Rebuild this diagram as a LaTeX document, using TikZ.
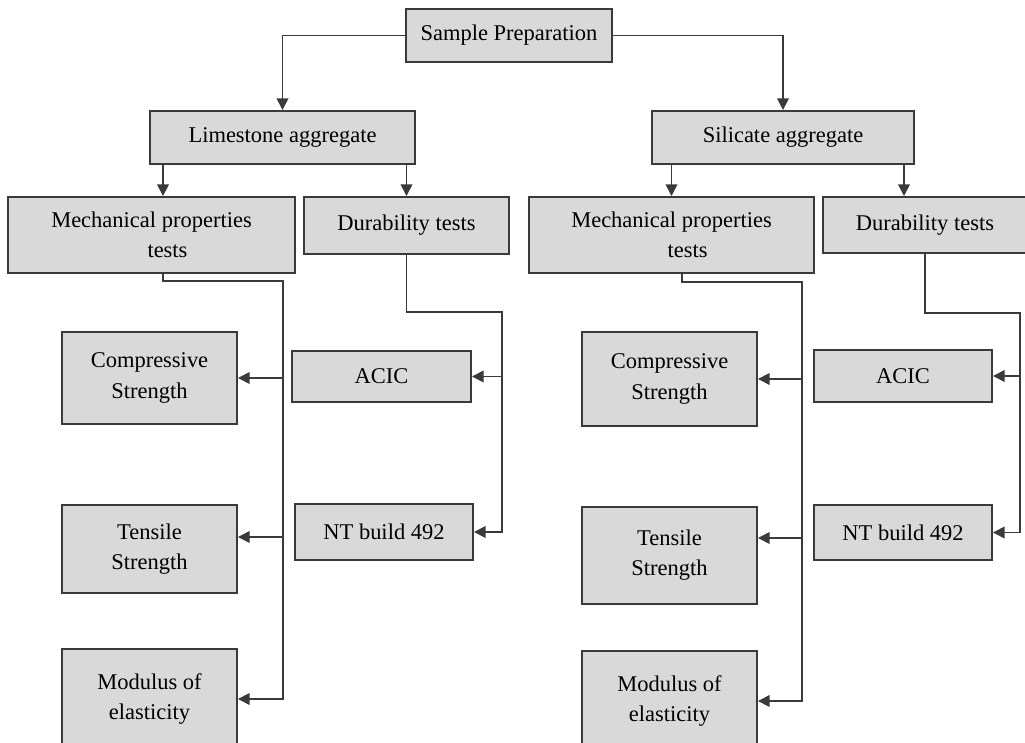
\documentclass[tikz,border=0pt]{standalone}
\usepackage{fontspec}
\setmainfont{Liberation Serif}
\usetikzlibrary{arrows.meta}
\definecolor{boxfill}{HTML}{D9D9D9}
\definecolor{boxline}{HTML}{3A3A3A}

\begin{document}
\begin{tikzpicture}
  \tikzset{box/.style = {shape=rectangle,draw=boxline,fill=boxfill,line width=1.4pt,inner sep=2pt,align=center,text=black,font=\fontsize{16}{21.5}\selectfont}}
  \tikzset{arr/.style = {draw=boxline,line width=1.2pt,-{Triangle[length=2.9mm,width=2.9mm]}}}

  \useasboundingbox (0,0) rectangle (25.625,18.55);
  \clip (0,0) rectangle (25.625,18.55);

	\node[box,minimum width=5.15cm,minimum height=1.325cm] (sample) at (12.725,17.6625) {Sample Preparation};
	\node[box,minimum width=6.625cm,minimum height=1.325cm] (lime) at (7.0625,15.1125) {Limestone aggregate};
	\node[box,minimum width=6.55cm,minimum height=1.325cm] (sili) at (19.575,15.1125) {Silicate aggregate};

	\node[box,minimum width=7.175cm,minimum height=1.9cm] (mechL) at (3.7875,12.675) {Mechanical properties\\\hspace*{0.8cm}tests};
	\node[box,minimum width=5.125cm,minimum height=1.425cm] (durL) at (10.1625,12.9125) {Durability tests};
	\node[box,minimum width=7.125cm,minimum height=1.9cm] (mechR) at (16.7875,12.675) {Mechanical properties\\\hspace*{0.8cm}tests};
	\node[box,minimum width=5.1cm,minimum height=1.4cm] (durR) at (23.125,12.925) {Durability tests};

	\node[box,minimum width=4.375cm,minimum height=2.3cm] (compL) at (3.7375,9.1) {Compressive\\Strength};
	\node[box,minimum width=4.375cm,minimum height=2.2cm] (tensL) at (3.7375,4.825) {Tensile\\Strength};
	\node[box,minimum width=4.375cm,minimum height=2.5cm] (modL) at (3.7375,1.075) {Modulus of\\elasticity};
	\node[box,minimum width=4.475cm,minimum height=1.275cm] (acicL) at (9.5375,9.1375) {ACIC};
	\node[box,minimum width=4.45cm,minimum height=1.4cm] (ntL) at (9.6,5.25) {NT build 492};

	\node[box,minimum width=4.375cm,minimum height=2.35cm] (compR) at (16.7375,9.075) {Compressive\\Strength};
	\node[box,minimum width=4.375cm,minimum height=2.425cm] (tensR) at (16.7375,4.6625) {Tensile\\Strength};
	\node[box,minimum width=4.375cm,minimum height=2.5cm] (modR) at (16.7375,1.025) {Modulus of\\elasticity};
	\node[box,minimum width=4.45cm,minimum height=1.3cm] (acicR) at (22.575,9.15) {ACIC};
	\node[box,minimum width=4.45cm,minimum height=1.375cm] (ntR) at (22.575,5.2375) {NT build 492};

	\coordinate (bML) at (4.075,11.525);
	\coordinate (tML) at (7.075,11.525);
	\coordinate (bMR) at (17.05,11.5);
	\coordinate (tMR) at (20.05,11.5);
	\coordinate (tDL) at (12.55,10.75);
	\coordinate (tDR) at (25.5,10.725);
	\coordinate (sDR) at (22.6,14);
	\coordinate (aTL) at (7.075,5.125);
	\coordinate (aTR) at (20.05,5.1);

	\draw[arr] (sample.west) -| (lime.north);
	\draw[arr] (sample.east) -| (sili.north);
	\draw[arr] (bML |- lime.south) -- (bML |- mechL.north);
	\draw[arr] (lime.south -| durL.north) -- (durL.north);
	\draw[arr] (sili.south -| mechR.north) -- (mechR.north);
	\draw[arr] (sDR |- sili.south) -- (sDR |- durR.north);

	\draw[arr] (bML |- mechL.south) -- (bML) -- (tML) |- (modL.east);
	\draw[arr] (bMR |- mechR.south) -- (bMR) -- (tMR) |- (modR.east);
	\draw[arr] (durL.south) |- (tDL) |- (ntL.east);
	\draw[arr] (durR.south) |- (tDR) |- (ntR.east);

    \foreach \trunk/\to in {tML/compL, tMR/compR, tDL/acicL, tDR/acicR}
    \draw[arr] (\trunk |- \to.east) -- (\to.east);

    \foreach \from/\to in {aTL/tensL, aTR/tensR}
    \draw[arr] (\from) -- (\from -| \to.east);
\end{tikzpicture}
\end{document}
